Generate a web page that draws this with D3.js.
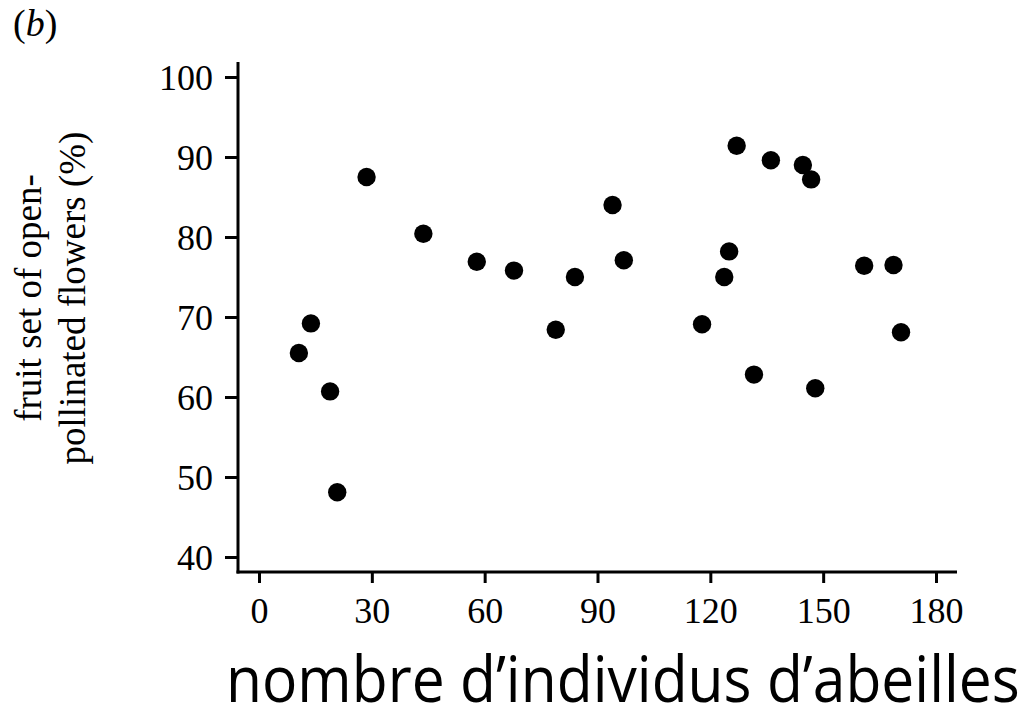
<!DOCTYPE html>
<html><head><meta charset="utf-8">
<script src="https://cdn.jsdelivr.net/npm/d3@7"></script>
<style>body{margin:0;background:#fff}svg{display:block}</style></head><body>
<svg id="c" width="1032" height="720"></svg>
<script>
const beeCounts = [10.6, 13.8, 18.9, 20.8, 28.6, 43.7, 57.9, 67.8, 78.9, 84.0, 94.0, 97.0, 117.8, 123.7, 125.0, 127.0, 131.6, 136.1, 144.6, 146.8, 147.9, 160.9, 168.7, 170.7];
const fruitSet  = [65.5, 69.2, 60.7, 48.1, 87.5, 80.4, 76.9, 75.8, 68.4, 75.0, 84.0, 77.1, 69.1, 75.0, 78.2, 91.4, 62.8, 89.6, 89.0, 87.2, 61.1, 76.4, 76.5, 68.1];
const xTicks = [0, 30, 60, 90, 120, 150, 180];
const yTicks = [40, 50, 60, 70, 80, 90, 100];
const panelLabel = "b";
const yTitle = ["fruit set of open-", "pollinated flowers (%)"];
const xTitle = "nombre d\u2019individus d\u2019abeilles";

const svg = d3.select("#c");
const x = d3.scaleLinear().domain([0, 180]).range([259, 936]);
const y = d3.scaleLinear().domain([40, 100]).range([557, 77]);
const serif = "'Liberation Serif', 'Times New Roman', serif";
const axisX0 = 238, axisY0 = 572;

// y axis
const gy = svg.append("g").attr("transform", `translate(${axisX0},0)`)
  .call(d3.axisLeft(y).tickValues(yTicks).tickSize(13).tickPadding(12).tickFormat(d3.format("d")));
gy.select(".domain").remove();
gy.selectAll(".tick line").attr("stroke", "#000").attr("stroke-width", 3);
gy.selectAll(".tick text").attr("font-family", serif).attr("font-size", 36).attr("fill", "#000").attr("dy", "0.34em");
svg.append("line").attr("x1", axisX0).attr("x2", axisX0).attr("y1", 62).attr("y2", axisY0 + 1.5)
  .attr("stroke", "#000").attr("stroke-width", 3);

// x axis
const gx = svg.append("g").attr("transform", `translate(0,${axisY0})`)
  .call(d3.axisBottom(x).tickValues(xTicks).tickSize(11).tickPadding(14).tickFormat(d3.format("d")));
gx.select(".domain").remove();
gx.selectAll(".tick line").attr("stroke", "#000").attr("stroke-width", 3);
gx.selectAll(".tick text").attr("font-family", serif).attr("font-size", 36).attr("fill", "#000");
svg.append("line").attr("x1", axisX0 - 1.5).attr("x2", 957).attr("y1", axisY0).attr("y2", axisY0)
  .attr("stroke", "#000").attr("stroke-width", 3);

// points
svg.append("g").selectAll("circle").data(beeCounts.map((b, i) => [b, fruitSet[i]]))
  .join("circle").attr("cx", d => x(d[0])).attr("cy", d => y(d[1])).attr("r", 9.2).attr("fill", "#000");

// panel label
const pl = svg.append("text").attr("x", 13).attr("y", 36).attr("font-family", serif).attr("font-size", 38).attr("fill", "#000");
pl.append("tspan").text("(");
pl.append("tspan").attr("font-style", "italic").text(panelLabel);
pl.append("tspan").text(")");

// y title
const yt = svg.append("text").attr("transform", "translate(0,298) rotate(-90)")
  .attr("font-family", serif).attr("font-size", 37).attr("fill", "#000").attr("text-anchor", "middle");
yt.append("tspan").attr("x", 0).attr("y", 41).text(yTitle[0]);
yt.append("tspan").attr("x", 0).attr("y", 85).text(yTitle[1]);

// x title: fit natural width to the reference width, keep height
const xt = svg.append("text").attr("font-family", "'Open Sans', sans-serif")
  .attr("font-size", 64).attr("fill", "#000").text(xTitle);
const w = xt.node().getComputedTextLength();
xt.attr("transform", `translate(226,702) scale(${794 / w},1)`);
</script>
</body></html>
